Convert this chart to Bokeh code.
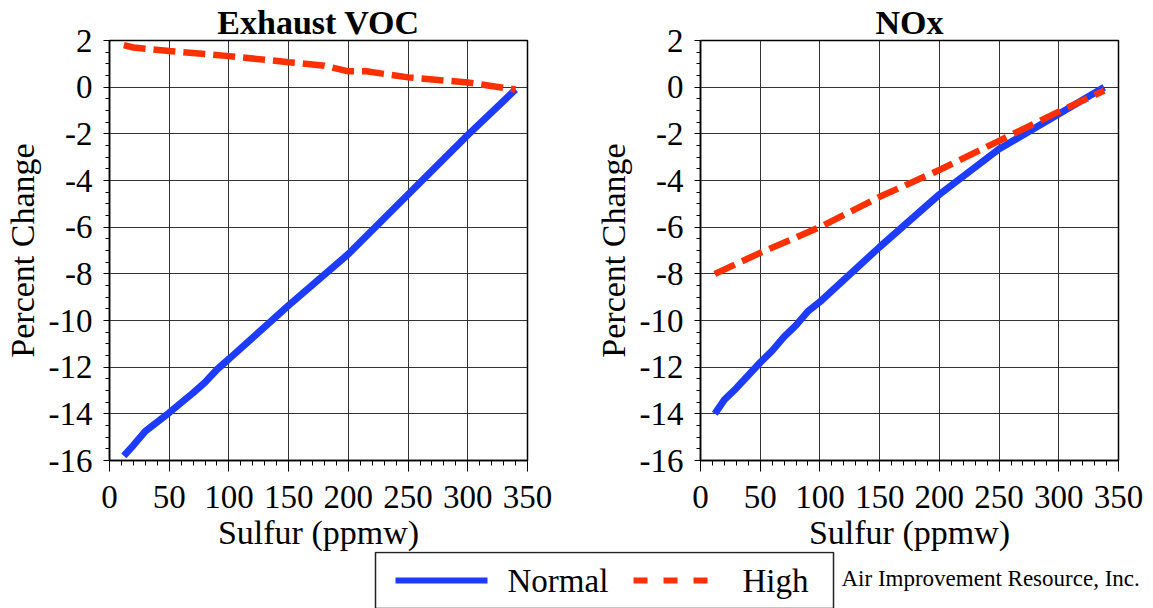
from bokeh.plotting import figure
from bokeh.layouts import column, row
from bokeh.models import Range1d, SingleIntervalTicker, PrintfTickFormatter
from bokeh.embed import file_html
from bokeh.resources import INLINE
from bokeh.core.properties import value

# ---------------- data ----------------
titles = ["Exhaust VOC", "NOx"]
series_names = ["Normal", "High"]
credit = "Air Improvement Resource, Inc."

voc_normal_sulfur = [12, 20, 30, 50, 70, 80, 90, 100, 150, 200, 250, 300, 340]
voc_normal_change = [-15.8, -15.35, -14.75, -13.95, -13.1, -12.65, -12.1, -11.65, -9.35, -7.15, -4.6, -2.05, -0.1]

voc_high_sulfur = [12, 20, 50, 100, 150, 180, 200, 215, 250, 300, 340]
voc_high_change = [1.8, 1.7, 1.55, 1.33, 1.07, 0.92, 0.68, 0.68, 0.42, 0.2, -0.1]

nox_normal_sulfur = [12, 20, 30, 50, 60, 70, 80, 90, 100, 150, 200, 250, 300, 338]
nox_normal_change = [-14.0, -13.4, -12.9, -11.8, -11.3, -10.7, -10.2, -9.6, -9.2, -6.85, -4.6, -2.65, -1.15, 0.0]

nox_high_sulfur = [12, 50, 100, 150, 200, 250, 300, 338]
nox_high_change = [-8.0, -7.1, -6.0, -4.7, -3.55, -2.3, -1.05, -0.15]

x_label = "Sulfur (ppmw)"
y_label = "Percent Change"

# ---------------- style ----------------
FONT = "Liberation Serif"
BLUE = "#1E3CFF"
RED = "#FF3000"
FRAME = 420
TOP = 40
LEFT = 107
BOTTOM = 110


def make_plot(title, xn, yn, xh, yh, right):
    p = figure(width=LEFT + FRAME + right, height=TOP + FRAME + BOTTOM,
               x_range=Range1d(0, 350), y_range=Range1d(-16, 2),
               output_backend="svg", toolbar_location=None,
               min_border_left=LEFT, min_border_right=right,
               min_border_top=TOP, min_border_bottom=BOTTOM,
               title=title)
    p.title.text_font = FONT
    p.title.text_font_size = "34px"
    p.title.text_font_style = "bold"
    p.title.text_color = "black"
    p.title.align = "center"
    p.title.standoff = 0
    p.title.offset = 0

    p.outline_line_color = "black"
    p.outline_line_width = 1.5
    p.background_fill_color = "white"
    p.border_fill_color = "white"

    p.xaxis.ticker = SingleIntervalTicker(interval=50, num_minor_ticks=5)
    p.yaxis.ticker = SingleIntervalTicker(interval=2, num_minor_ticks=4)
    p.xaxis.formatter = PrintfTickFormatter(format="%d")
    p.yaxis.formatter = PrintfTickFormatter(format="%d")

    for ax in (p.xaxis[0], p.yaxis[0]):
        ax.major_label_text_font = FONT
        ax.major_label_text_font_size = "33px"
        ax.major_label_text_color = "black"
        ax.axis_label_text_font = FONT
        ax.axis_label_text_font_size = "34px"
        ax.axis_label_text_font_style = "normal"
        ax.axis_label_text_color = "black"
        ax.axis_line_color = "black"
        ax.axis_line_width = 1.5
        ax.major_tick_line_color = "black"
        ax.minor_tick_line_color = "black"
        ax.major_tick_in = 0
        ax.minor_tick_in = 0

    p.xaxis.axis_label = x_label
    p.xaxis.major_tick_out = 11
    p.xaxis.minor_tick_out = 5
    p.xaxis.major_label_standoff = 14
    p.xaxis.axis_label_standoff = 3

    p.yaxis.axis_label = y_label
    p.yaxis.major_tick_out = 6
    p.yaxis.minor_tick_out = 4
    p.yaxis.major_label_standoff = 11
    p.yaxis.axis_label_standoff = 5

    p.grid.grid_line_color = "#333333"
    p.grid.grid_line_width = 1

    p.line(xn, yn, line_color=BLUE, line_width=7)
    p.line(xh, yh, line_color=RED, line_width=6.5, line_dash="22 8")
    return p


p1 = make_plot(titles[0], voc_normal_sulfur, voc_normal_change,
               voc_high_sulfur, voc_high_change, 64)
p2 = make_plot(titles[1], nox_normal_sulfur, nox_normal_change,
               nox_high_sulfur, nox_high_change, 30)

# ---------------- legend strip ----------------
W = LEFT + FRAME + 64 + LEFT + FRAME + 30
H = 58
leg = figure(width=W, height=H, x_range=Range1d(0, W), y_range=Range1d(0, H),
             output_backend="svg", toolbar_location=None,
             x_axis_type=None, y_axis_type=None,
             min_border=0, outline_line_color=None)
leg.background_fill_alpha = 0
leg.border_fill_alpha = 0
leg.grid.visible = False
# strip is pulled up so that its top sits right under the axis titles
leg.margin = (-19, 0, 0, 0)
leg.quad(left=[375], right=[833], bottom=[1], top=[57],
         fill_color=None, line_color="#222222", line_width=1.5)
leg.line([395, 487], [29, 29], line_color=BLUE, line_width=6)
leg.line([633, 719], [29, 29], line_color=RED, line_width=6, line_dash="14 16")
leg.text(x=[507, 742], y=[29, 29], text=series_names,
         text_font=value(FONT), text_font_size="33px",
         text_baseline="middle", text_align="left", text_color="black")
leg.text(x=[841], y=[31], text=[credit],
         text_font=value(FONT), text_font_size="23px",
         text_baseline="middle", text_align="left", text_color="black")

layout = column(row(p1, p2), leg)
open("out.html", "w").write(file_html(layout, INLINE))
